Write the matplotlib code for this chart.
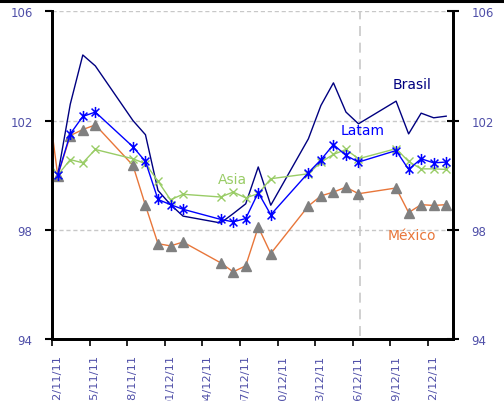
import matplotlib
matplotlib.use("Agg")
import matplotlib.pyplot as plt
import matplotlib.dates as mdates
import matplotlib.transforms as mtransforms
from matplotlib.path import Path
from matplotlib.lines import Line2D
import numpy as np
import pandas as pd

# ---------------- data ----------------
dates = ["2011-11-21",
         "2011-11-22", "2011-11-23", "2011-11-24", "2011-11-25",
         "2011-11-28", "2011-11-29", "2011-11-30", "2011-12-01", "2011-12-02",
         "2011-12-05", "2011-12-06", "2011-12-07", "2011-12-08", "2011-12-09",
         "2011-12-12", "2011-12-13", "2011-12-14", "2011-12-15", "2011-12-16",
         "2011-12-19", "2011-12-20", "2011-12-21", "2011-12-22", "2011-12-23"]

brasil = [np.nan,
          100.0, 102.6, 104.4, 104.0,
          102.0, 101.48, 99.44, 98.92, 98.5,
          98.25, 98.59, 98.95, 100.3, 98.9,
          101.33, 102.55, 103.38, 102.31, 101.88,
          102.71, 101.51, 102.27, 102.1, 102.16]

latam = [np.nan,
         100.0, 101.51, 102.15, 102.31,
         101.04, 100.5, 99.11, 98.92, 98.75,
         98.38, 98.29, 98.41, 99.36, 98.55,
         100.09, 100.56, 101.12, 100.72, 100.48,
         100.9, 100.21, 100.6, 100.45, 100.48]

asia = [100.7,
        100.0, 100.57, 100.45, 100.94,
        100.6, 100.42, 99.78, 99.1, 99.3,
        99.2, 99.38, 99.17, 99.32, 99.87,
        100.05, 100.48, 100.76, 100.94, 100.6,
        100.97, 100.5, 100.23, 100.23, 100.21]

mexico = [103.5,
          99.98, 101.45, 101.67, 101.84,
          100.36, 98.89, 97.49, 97.41, 97.55,
          96.79, 96.46, 96.68, 98.1, 97.13,
          98.87, 99.24, 99.38, 99.56, 99.32,
          99.53, 98.63, 98.92, 98.89, 98.92]

tick_dates = ["2011-11-22", "2011-11-25", "2011-11-28", "2011-12-01",
              "2011-12-04", "2011-12-07", "2011-12-10", "2011-12-13",
              "2011-12-16", "2011-12-19", "2011-12-22"]
y_ticks = [94, 98, 102, 106]

# ---------------- styling ----------------
TICK_COLOR = "#4F4FA8"
C_BRASIL = "#000080"
C_LATAM = "#0000FF"
C_ASIA = "#99CC66"
C_MEX = "#E8763A"
C_TRI = "#808080"

x = pd.to_datetime(dates) + pd.Timedelta(hours=11)
xt = pd.to_datetime(tick_dates)

fig = plt.figure(figsize=(5.04, 4.02), dpi=100)
ax = fig.add_axes([52/504, 1-340/402, (453-52)/504, (340-12.3)/402])

# asterisk marker (x plus vertical bar)
d = 0.7071
ast = Path([(0, -1), (0, 1), (-d, -d), (d, d), (-d, d), (d, -d)],
           [Path.MOVETO, Path.LINETO, Path.MOVETO, Path.LINETO, Path.MOVETO, Path.LINETO])

ax.plot(x, brasil, color=C_BRASIL, lw=1.0, zorder=3)
ax.plot(x, mexico, color=C_MEX, lw=1.0, marker="^", ms=7,
        markerfacecolor=C_TRI, markeredgecolor=C_TRI, zorder=4)
ax.plot(x, asia, color=C_ASIA, lw=1.0, marker="x", ms=6, mew=1.0,
        markeredgecolor=C_ASIA, zorder=5)
ax.plot(x, latam, color=C_LATAM, lw=1.0, marker=ast, ms=8, mew=1.1,
        markeredgecolor=C_LATAM, zorder=6)

xmin = pd.Timestamp("2011-11-22")
xmax = pd.Timestamp("2011-12-24")
ax.set_xlim(xmin, xmax)
ax.set_ylim(94, 106)

# vertical dashed marker line
vline_x = pd.Timestamp("2011-12-16") + pd.Timedelta(hours=13)
ax.axvline(vline_x, ymin=0.01, ymax=1, color="#C8C8C8", lw=1.2,
           linestyle=(0, (6, 4)), zorder=2)

# grid
ax.set_yticks(y_ticks)
ax.yaxis.grid(True, color="#C8C8C8", linestyle=(0, (3, 2)), lw=1.0)
ax.set_axisbelow(True)

# x axis
ax.set_xticks(xt)
ax.xaxis.set_major_formatter(mdates.DateFormatter("%d/%m/%y"))
ax.tick_params(axis="x", direction="out", length=5, width=1.2, pad=6,
               labelsize=8.2, labelcolor=TICK_COLOR, labelrotation=90)
offset = mtransforms.ScaledTranslation(5/100, 0, fig.dpi_scale_trans)
for lab in ax.get_xticklabels():
    lab.set_transform(lab.get_transform() + offset)
    lab.set_va("top")

# y axis left
ax.tick_params(axis="y", direction="out", length=5, width=1.5, pad=9,
               labelsize=8.5, labelcolor=TICK_COLOR)

# right axis
ax2 = ax.twinx()
ax2.set_ylim(94, 106)
ax2.set_yticks(y_ticks)
ax2.tick_params(axis="y", direction="inout", length=9, width=1.5, pad=9,
                labelsize=8.5, labelcolor=TICK_COLOR)

for a in (ax, ax2):
    a.spines["top"].set_visible(False)
    for s in ("left", "right", "bottom"):
        a.spines[s].set_linewidth(2.0)
        a.spines[s].set_color("black")

# series labels
def dx(days):
    return mdates.date2num(xmin) + days

ax.text(dx(28.7), 103.34, "Brasil", color=C_BRASIL, fontsize=10, ha="center", va="center", zorder=7)
ax.text(dx(24.8), 101.66, "Latam", color=C_LATAM, fontsize=10, ha="center", va="center", zorder=7)
ax.text(dx(14.43), 99.87, "Asia", color=C_ASIA, fontsize=10, ha="center", va="center", zorder=7)
ax.text(dx(28.7), 97.82, "México", color=C_MEX, fontsize=10, ha="center", va="center", zorder=7)

# top border line of the picture
fig.add_artist(Line2D([0, 1], [1 - 1.5/402, 1 - 1.5/402], transform=fig.transFigure,
                      color="black", lw=2.2))

fig.savefig("out.png", dpi=100)
